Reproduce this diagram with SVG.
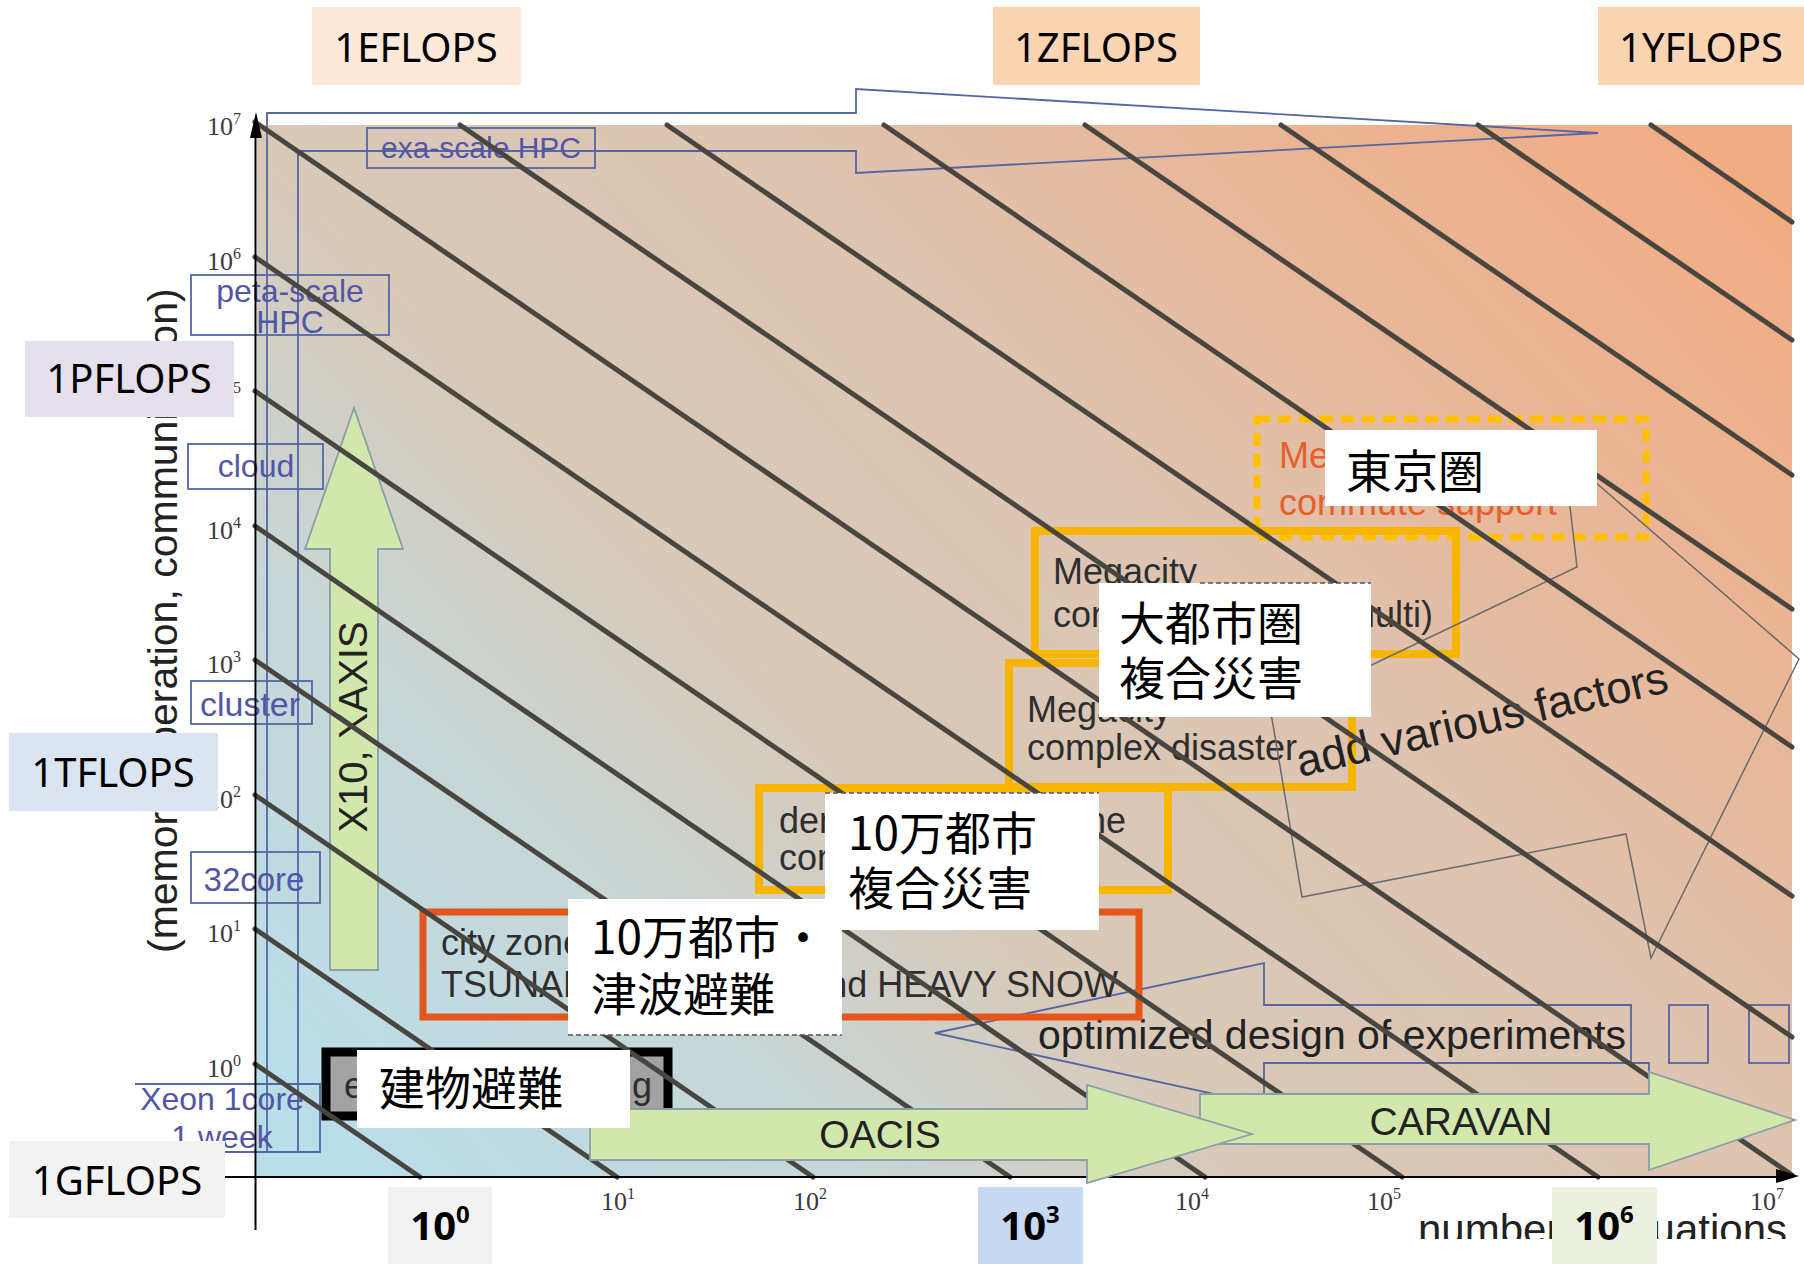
<svg xmlns="http://www.w3.org/2000/svg" width="1804" height="1264" viewBox="0 0 1804 1264">
<defs>
  <linearGradient id="bg" gradientUnits="userSpaceOnUse" x1="420" y1="1240" x2="1630" y2="60">
    <stop offset="0" stop-color="#B8DEEA"/>
    <stop offset="0.22" stop-color="#C8D6D6"/>
    <stop offset="0.38" stop-color="#D8C9B8"/>
    <stop offset="0.6" stop-color="#DDC4B1"/>
    <stop offset="0.8" stop-color="#E9B697"/>
    <stop offset="1" stop-color="#F2AC84"/>
  </linearGradient>
  <clipPath id="bottomClip"><rect x="0" y="0" width="1804" height="1239"/></clipPath>
</defs>
<style>
  .lbl { font-family: "Noto Sans", "Liberation Sans", sans-serif; font-size: 40px; fill: #000; text-anchor: middle; }
  .num { font-family: "Noto Sans", "Liberation Sans", sans-serif; font-size: 40px; font-weight: bold; fill: #000; text-anchor: middle; }
  .tick { font-family: "Liberation Serif", serif; font-size: 26px; fill: #3a3a3a; }
  .blue { font-family: "Liberation Sans", Arial, sans-serif; fill: #5356A6; text-anchor: middle; }
  .boxt { font-family: "Liberation Sans", Arial, sans-serif; font-size: 36px; fill: #2e2e2e; }
  .plot { font-family: "Liberation Sans", Arial, sans-serif; fill: #222; }
  .jp { font-family: "Noto Sans CJK JP", "Noto Sans", sans-serif; font-size: 46px; fill: #000; }
  .ob { fill: none; stroke: #5566A3; stroke-width: 1.8; }
  .diag { stroke: #48463F; stroke-width: 5; stroke-linecap: round; }
  .green { fill: #D1E7AC; stroke: #8A9FA8; stroke-width: 1.8; }
  .ybox { fill: none; stroke: #F7B500; stroke-width: 8; }
  .wbox { fill: #FFFFFF; }
  .dash { stroke: #555; stroke-width: 1.3; stroke-dasharray: 5 3; fill: none; }
</style>

<rect width="1804" height="1264" fill="#FFFFFF"/>

<g id="chart-bg">
  <rect x="257" y="125" width="1535" height="1052" fill="url(#bg)"/>
</g>

<g id="x10-arrow">
  <polygon class="green" points="354,408 403,549 378,549 378,970 330,970 330,549 305,549"/>
  <text class="plot" font-size="40" text-anchor="middle" transform="translate(367,727) rotate(-90)">X10, XAXIS</text>
</g>

<g id="exa-arrow">
  <path class="ob" d="M267,1152 V113 H856 V89 L1598,133 L856,173 V151 H298 V1152 Z"/>
</g>

<g id="exa-scale">
  <rect class="ob" x="367" y="128" width="228" height="40"/>
  <text class="blue" x="481" y="158" font-size="30">exa-scale HPC</text>
</g>
<g id="peta-scale">
  <rect class="ob" x="191" y="275" width="198" height="60"/>
  <text class="blue" x="290" y="302" font-size="32">peta-scale</text>
  <text class="blue" x="290" y="333" font-size="32">HPC</text>
</g>
<g id="cloud">
  <rect class="ob" x="188" y="444" width="135" height="45"/>
  <text class="blue" x="256" y="477" font-size="32">cloud</text>
</g>
<g id="cluster">
  <rect class="ob" x="191" y="681" width="121" height="43"/>
  <text class="blue" x="250" y="716" font-size="34">cluster</text>
</g>
<g id="core32">
  <rect class="ob" x="191" y="852" width="129" height="51"/>
  <text class="blue" x="254" y="891" font-size="33">32core</text>
</g>
<g id="xeon">
  <path class="ob" d="M135,1084 H320 V1152 H135"/>
  <text class="blue" x="222" y="1110" font-size="32">Xeon 1core</text>
  <text class="blue" x="222" y="1148" font-size="32">1 week</text>
</g>

<g id="optimized-arrow">
  <polygon class="ob" points="935,1033 1264,963 1264,1005 1631,1005 1631,1063 1264,1063 1264,1105"/>
  <path class="ob" d="M1264,1063 H1649 V1094"/>
  <rect class="ob" x="1669" y="1005" width="39" height="58"/>
  <rect class="ob" x="1749" y="1005" width="40" height="58"/>
  <text class="plot" x="1038" y="1049" font-size="41">optimized design of experiments</text>
</g>

<g id="tokyo-box">
  <rect x="1257" y="419" width="389" height="118" fill="none" stroke="#FFC000" stroke-width="7" stroke-dasharray="13 8"/>
  <text class="boxt" x="1279" y="468" font-size="38" style="fill:#E5602E">Megacity</text>
  <text class="boxt" x="1279" y="515" font-size="38" style="fill:#E5602E">commute support</text>
</g>
<g id="megacity-multi">
  <rect class="ybox" x="1035" y="531" width="421" height="123"/>
  <text class="boxt" x="1053" y="584">Megacity</text>
  <text class="boxt" x="1053" y="627">complex disaster (multi)</text>
</g>
<g id="megacity">
  <rect class="ybox" x="1009" y="663" width="343" height="124"/>
  <text class="boxt" x="1027" y="722">Megacity</text>
  <text class="boxt" x="1027" y="760">complex disaster</text>
</g>
<g id="dense-city">
  <rect class="ybox" x="759" y="788" width="409" height="102"/>
  <text class="boxt" x="779" y="833">dense</text>
  <text class="boxt" x="1126" y="833" text-anchor="end">zone</text>
  <text class="boxt" x="779" y="870">complex disaster</text>
</g>
<g id="city-zone">
  <rect x="423" y="912" width="716" height="105" fill="none" stroke="#E4561B" stroke-width="7"/>
  <text class="boxt" x="441" y="955" font-size="33">city zone</text>
  <text class="boxt" x="441" y="997" font-size="33">TSUNAMI</text>
  <text class="boxt" x="1118" y="997" font-size="33" text-anchor="end">and HEAVY SNOW</text>
</g>
<g id="building">
  <rect x="326" y="1052" width="342" height="64" fill="#A3A3A3" stroke="#000" stroke-width="9"/>
  <text class="boxt" x="344" y="1098" font-size="38">e</text>
  <text class="boxt" x="652" y="1098" font-size="38" text-anchor="end">g</text>
</g>

<g id="factors-arrow">
  <polygon points="1799,659 1564,455 1577,567 1271,713 1302,897 1626,834 1651,958" fill="none" stroke="#6b6b6b" stroke-width="1.5"/>
  <text class="plot" font-size="45" fill="#333" transform="translate(1300,777) rotate(-13)">add various factors</text>
</g>

<g id="connectors">
  <line class="diag" x1="255" y1="1064" x2="420" y2="1177"/>
  <line class="diag" x1="255" y1="929" x2="617" y2="1177"/>
  <line class="diag" x1="255" y1="795" x2="813" y2="1177"/>
  <line class="diag" x1="255" y1="660" x2="1010" y2="1177"/>
  <line class="diag" x1="255" y1="526" x2="1205" y2="1177"/>
  <line class="diag" x1="255" y1="391" x2="1402" y2="1177"/>
  <line class="diag" x1="255" y1="257" x2="1598" y2="1177"/>
  <line class="diag" x1="255" y1="122" x2="1792" y2="1175"/>
  <line class="diag" x1="460" y1="125" x2="1792" y2="1037"/>
  <line class="diag" x1="667" y1="125" x2="1792" y2="896"/>
  <line class="diag" x1="884" y1="125" x2="1792" y2="747"/>
  <line class="diag" x1="1085" y1="125" x2="1792" y2="609"/>
  <line class="diag" x1="1281" y1="125" x2="1792" y2="475"/>
  <line class="diag" x1="1478" y1="125" x2="1792" y2="340"/>
  <line class="diag" x1="1651" y1="125" x2="1792" y2="222"/>
</g>

<g id="axes">
  <line x1="225" y1="1177" x2="1780" y2="1177" stroke="#000" stroke-width="2"/>
  <polygon points="1799,1176 1776,1169 1776,1183" fill="#000"/>
  <line x1="255.5" y1="1230" x2="255.5" y2="132" stroke="#000" stroke-width="2"/>
  <polygon points="256,112 250,138 262,138" fill="#000"/>
</g>

<g id="caravan">
  <polygon class="green" points="1200,1094 1649,1094 1649,1072 1795,1120 1649,1170 1649,1144 1200,1144"/>
  <text class="plot" x="1461" y="1135" font-size="39" text-anchor="middle">CARAVAN</text>
</g>
<g id="oacis">
  <polygon class="green" points="590,1109 1087,1109 1087,1085 1252,1134 1087,1183 1087,1160 590,1160"/>
  <text class="plot" x="880" y="1148" font-size="39" text-anchor="middle">OACIS</text>
</g>

<g id="y-ticks">
  <text class="tick" x="207" y="135">10<tspan dy="-11" font-size="16">7</tspan></text>
  <text class="tick" x="207" y="270">10<tspan dy="-11" font-size="16">6</tspan></text>
  <text class="tick" x="207" y="404">10<tspan dy="-11" font-size="16">5</tspan></text>
  <text class="tick" x="207" y="539">10<tspan dy="-11" font-size="16">4</tspan></text>
  <text class="tick" x="207" y="673">10<tspan dy="-11" font-size="16">3</tspan></text>
  <text class="tick" x="207" y="808">10<tspan dy="-11" font-size="16">2</tspan></text>
  <text class="tick" x="207" y="942">10<tspan dy="-11" font-size="16">1</tspan></text>
  <text class="tick" x="207" y="1077">10<tspan dy="-11" font-size="16">0</tspan></text>
</g>
<g id="x-ticks">
  <text class="tick" x="601" y="1210">10<tspan dy="-11" font-size="16">1</tspan></text>
  <text class="tick" x="793" y="1210">10<tspan dy="-11" font-size="16">2</tspan></text>
  <text class="tick" x="1175" y="1210">10<tspan dy="-11" font-size="16">4</tspan></text>
  <text class="tick" x="1367" y="1210">10<tspan dy="-11" font-size="16">5</tspan></text>
  <text class="tick" x="1750" y="1210">10<tspan dy="-11" font-size="16">7</tspan></text>
</g>

<g id="y-title">
  <text class="plot" font-size="41" transform="translate(177,953) rotate(-90)">(memory, operation, communication)</text>
</g>
<g id="x-title" clip-path="url(#bottomClip)">
  <text class="plot" x="1418" y="1244" font-size="42">number</text>
  <text class="plot" x="1787" y="1244" font-size="42" text-anchor="end">uations</text>
</g>

<g id="jp-tokyo">
  <rect class="wbox" x="1325" y="430" width="272" height="76"/>
  <text class="jp" x="1346" y="488">東京圏</text>
</g>
<g id="jp-daitoshi">
  <rect class="wbox" x="1099" y="583" width="272" height="134"/>
  <line class="dash" x1="1200" y1="583" x2="1371" y2="583"/>
  <text class="jp" x="1119" y="640">大都市圏</text>
  <text class="jp" x="1119" y="695">複合災害</text>
</g>
<g id="jp-10man-fukugo">
  <rect class="wbox" x="825" y="793" width="274" height="137"/>
  <line class="dash" x1="825" y1="793" x2="1099" y2="793"/>
  <text class="jp" x="848" y="850">10万都市</text>
  <text class="jp" x="848" y="905">複合災害</text>
</g>
<g id="jp-10man-tsunami">
  <rect class="wbox" x="568" y="899" width="274" height="136"/>
  <line class="dash" x1="568" y1="1035" x2="842" y2="1035"/>
  <text class="jp" x="591" y="954">10万都市・</text>
  <text class="jp" x="591" y="1011">津波避難</text>
</g>
<g id="jp-building">
  <rect class="wbox" x="357" y="1050" width="273" height="78"/>
  <text class="jp" x="379" y="1105">建物避難</text>
</g>

<g id="label-1EFLOPS"><rect x="312" y="7" width="209" height="78" fill="#FDE9D9"/><text class="lbl" x="416" y="62">1EFLOPS</text></g>
<g id="label-1ZFLOPS"><rect x="993" y="7" width="207" height="78" fill="#FBD4B4"/><text class="lbl" x="1096" y="62">1ZFLOPS</text></g>
<g id="label-1YFLOPS"><rect x="1598" y="7" width="206" height="78" fill="#FBD4B4"/><text class="lbl" x="1701" y="62">1YFLOPS</text></g>
<g id="label-1PFLOPS"><rect x="25" y="341" width="209" height="76" fill="#E5E0EC"/><text class="lbl" x="129" y="393">1PFLOPS</text></g>
<g id="label-1TFLOPS"><rect x="9" y="733" width="209" height="78" fill="#DBE5F1"/><text class="lbl" x="113" y="787">1TFLOPS</text></g>
<g id="label-1GFLOPS"><rect x="9" y="1141" width="216" height="77" fill="#F2F2F2"/><text class="lbl" x="117" y="1195">1GFLOPS</text></g>
<g id="label-1e0"><rect x="388" y="1187" width="104" height="77" fill="#F2F2F2"/><text class="num" x="440" y="1240">10<tspan dy="-17" font-size="24">0</tspan></text></g>
<g id="label-1e3"><rect x="978" y="1187" width="105" height="77" fill="#C6D9F1"/><text class="num" x="1030" y="1240">10<tspan dy="-17" font-size="24">3</tspan></text></g>
<g id="label-1e6"><rect x="1552" y="1187" width="105" height="77" fill="#EBF1DE"/><text class="num" x="1604" y="1240">10<tspan dy="-17" font-size="24">6</tspan></text></g>
</svg>
